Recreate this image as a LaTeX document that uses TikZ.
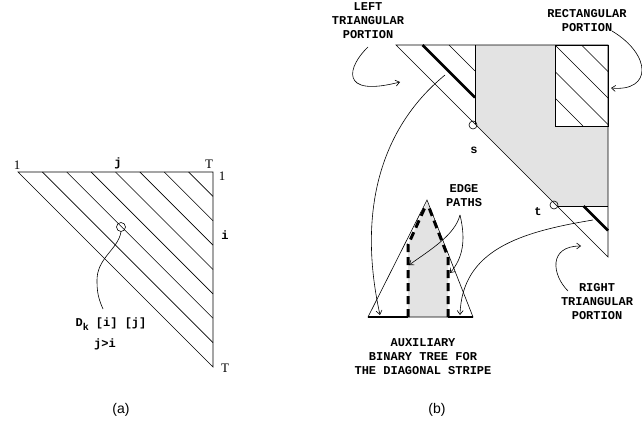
\documentclass[tikz,border=0pt]{standalone}
\usepackage{fontspec}
\setmainfont{Liberation Serif}
\setmonofont{Liberation Mono}
\newfontfamily\capsans{Liberation Sans}
\usetikzlibrary{arrows.meta}
\tikzset{
  tag/.style={font=\fontsize{12}{14}\selectfont\ttfamily\bfseries, align=center, inner sep=0pt},
  num/.style={font=\fontsize{13}{13}\selectfont, inner sep=0pt},
  caption/.style={font=\fontsize{14}{14}\selectfont\capsans, inner sep=0pt},
  pointer/.style={-{Straight Barb[length=4pt,width=6pt]}, line width=0.6pt},
  stripe/.style={line width=2.5pt},
  edgepath/.style={line width=3pt, dash pattern=on 8pt off 5pt},
  shade/.style={fill=black!11},
  dot/.style={draw, circle, minimum size=8pt, inner sep=0pt},
}
\begin{document}
\begin{tikzpicture}[x=1pt, y=-1pt, line width=0.6pt]
  \useasboundingbox (0,0) rectangle (642,431);
  % (a): the upper triangle of the table
  \draw (18,172) -- (213,172) -- (213,367) -- cycle;
  \foreach \k in {1,...,7}
    \draw ({18+24.375*\k},172) -- (213,{367-24.375*\k});
  \node[dot, minimum size=9pt] (cell) at (121,227) {};
  \node[num] (onetop) at (17,165) {1};
  \node[tag] (jtop) at (118,163) {j};
  \node[num] (Ttop) at (209,164) {T};
  \node[num] (oneside) at (222,176) {1};
  \node[tag] (iside) at (225,235) {i};
  \node[num] (Tside) at (225,368) {T};
  \node[tag] (dk) at (111,324) {D\raisebox{-4pt}{\fontsize{10}{10}\selectfont k} [i] [j]};
  \node[tag] (cond) at (105,344) {j>i};
  \coordinate (dkpin) at (103,309);
  \draw (cell.south) .. controls (118,250) and (96,258) .. (97,282)
    .. controls (97,295) and (100,302) .. (dkpin);
  \node[caption] (capa) at (121,410) {(a)};

  % (b): portions of the table
  \fill[shade] (475,45) -- (555,45) -- (555,126) -- (608,126) -- (608,206)
    -- (557,206) -- (475,124) -- cycle;
  \draw (422.5,45) -- (475,97.5) [stripe];
  \draw (449,45) -- (475,71);
  \begin{scope}
    \clip (555,45) rectangle (608,126);
    \foreach \k in {4,...,7}
      \draw ({351+26.5*\k+45},45) -- ({351+26.5*\k+126},126);
  \end{scope}
  \draw[stripe] (583.5,206) -- (608,230.5);
  \draw (396,45) -- (608,45) -- (608,257) -- cycle;
  \draw (475,45) -- (475,124);
  \draw (555,45) rectangle (608,126);
  \draw (557,206) -- (608,206);
  \node[dot] (sdot) at (473,125) {};
  \node[dot] (tdot) at (554,205) {};
  \node[tag] (slbl) at (474,150) {s};
  \node[tag] (tlbl) at (538,212) {t};

  % auxiliary tree
  \fill[shade] (408,317) -- (408,245) -- (427,202) -- (448,257) -- (448,317) -- cycle;
  \draw (368,317) -- (427,200) -- (473,317) -- cycle;
  \draw[stripe] (368,317) -- (408,317);
  \draw[stripe] (448,317) -- (473,317);
  \draw[edgepath] (408,317) -- (408,245) -- (426,205);
  \draw[edgepath] (448,317) -- (448,257) -- (428,205);

  % labels
  \node[tag] (leftlbl) at (368,21) {LEFT\\TRIANGULAR\\PORTION};
  \node[tag] (rectlbl) at (587,21) {RECTANGULAR\\PORTION};
  \node[tag] (rightlbl) at (597,302) {RIGHT\\TRIANGULAR\\PORTION};
  \node[tag] (edgelbl) at (464,196) {EDGE\\PATHS};
  \node[tag] (auxlbl) at (423,357) {AUXILIARY\\BINARY TREE FOR\\THE DIAGONAL STRIPE};
  \node[caption] (capb) at (437,410) {(b)};

  % pointers
  \coordinate (leftfrom) at (368,47);
  \coordinate (leftto) at (400,82);
  \draw[pointer] (leftfrom) .. controls (348,66) and (338,98) .. (leftto);
  \coordinate (rectfrom) at (612,31);
  \coordinate (rectto) at (611,88);
  \draw[pointer] (rectfrom) .. controls (652,55) and (652,92) .. (rectto);
  \coordinate (rightfrom) at (568,291);
  \coordinate (rightto) at (581,246);
  \draw[pointer] (rightfrom) .. controls (552,275) and (548,246) .. (rightto);
  \coordinate (stripeL) at (445,75);
  \coordinate (baseL) at (380,315);
  \draw[pointer] (stripeL) .. controls (378,130) and (358,215) .. (baseL);
  \coordinate (stripeR) at (593,220);
  \coordinate (baseR) at (460,315);
  \draw[pointer] (stripeR) .. controls (520,232) and (462,250) .. (baseR);
  \coordinate (edgefrom) at (460,215);
  \coordinate (edgeL) at (409,265);
  \coordinate (edgeR) at (450,273);
  \draw[pointer] (edgefrom) .. controls (455,235) and (430,250) .. (edgeL);
  \draw[pointer] (edgefrom) .. controls (466,240) and (463,258) .. (edgeR);
\end{tikzpicture}
\end{document}
